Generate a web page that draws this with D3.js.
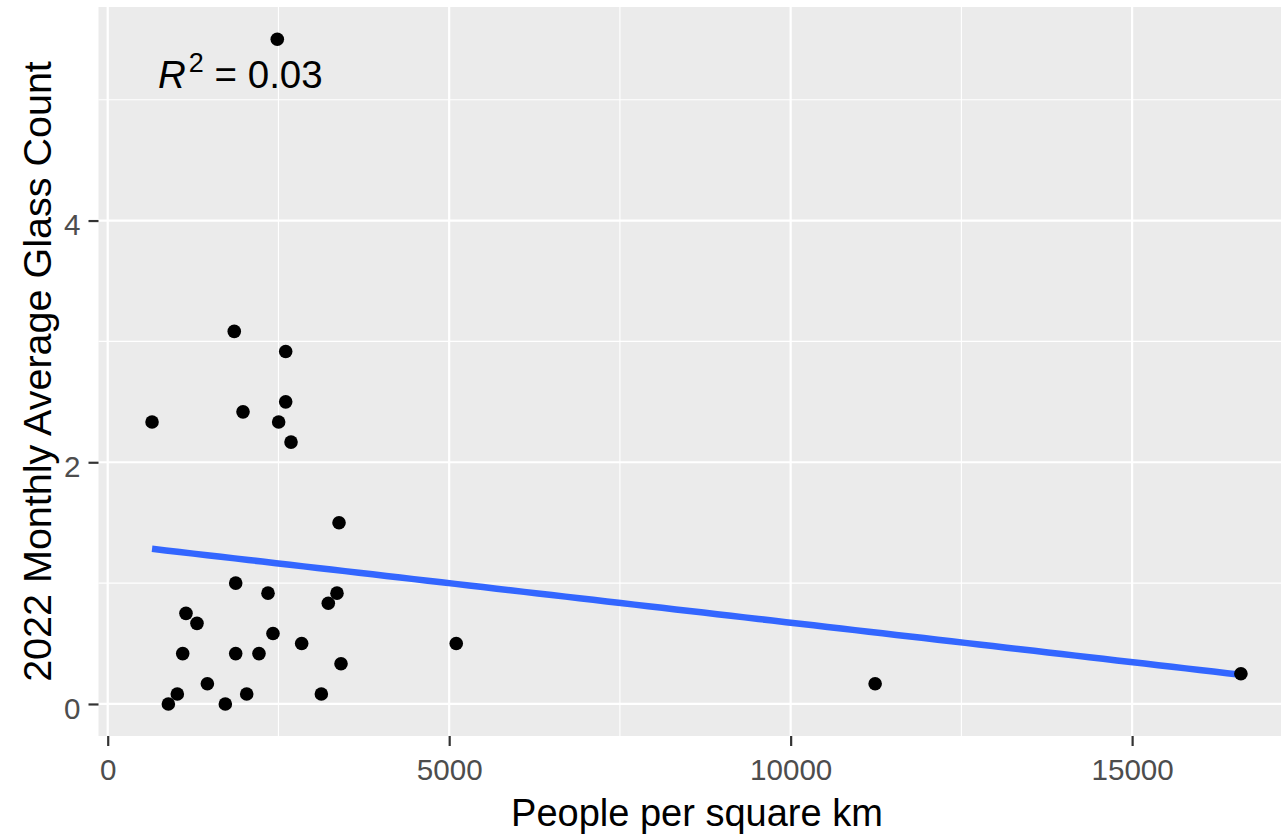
<!DOCTYPE html>
<html>
<head>
<meta charset="utf-8">
<script src="https://cdn.jsdelivr.net/npm/d3@7"></script>
<style>
  body { margin: 0; background: #fff; }
  svg { display: block; font-family: "Liberation Sans", Arial, sans-serif; }
</style>
</head>
<body>
<svg id="chart"></svg>
<script>
// people per square km
const density = [2483, 1853, 2606, 2606, 1981, 649, 2503, 2684, 3387, 1874,
                 2347, 3357, 3230, 1146, 1307, 2420, 2840, 1098, 1874, 2215,
                 3416, 1459, 1019, 2035, 3128, 888, 1722, 5103, 11237, 16593];
// 2022 monthly average glass count
const glass = [5.5, 3.083, 2.917, 2.5, 2.417, 2.333, 2.333, 2.167, 1.5, 1.0,
               0.917, 0.917, 0.833, 0.75, 0.667, 0.583, 0.5, 0.417, 0.417, 0.417,
               0.333, 0.167, 0.083, 0.083, 0.083, 0, 0, 0.5, 0.167, 0.25];
const xTicks = [0, 5000, 10000, 15000];
const xMinor = [2500, 7500, 12500, 17500];
const yTicks = [0, 2, 4];
const yMinor = [1, 3, 5];
const r2Label = "0.03";

function main() {
    const width = 1281;
    const height = 838;
    const panel = { left: 98.5, right: 1281, top: 7, bottom: 736 };

    const svg = d3.select("#chart").attr("width", width).attr("height", height);

    const x = d3.scaleLinear().domain([-135, 17180]).range([panel.left, panel.right]);
    const y = d3.scaleLinear().domain([-0.265, 5.767]).range([panel.bottom, panel.top]);

    svg.append("rect")
        .attr("x", panel.left).attr("y", panel.top)
        .attr("width", panel.right - panel.left).attr("height", panel.bottom - panel.top)
        .attr("fill", "#EBEBEB");

    const grid = svg.append("g");
    grid.selectAll(".xminor").data(xMinor).join("line")
        .attr("x1", d => x(d)).attr("x2", d => x(d))
        .attr("y1", panel.top).attr("y2", panel.bottom)
        .attr("stroke", "#fff").attr("stroke-width", 1.1);
    grid.selectAll(".yminor").data(yMinor).join("line")
        .attr("x1", panel.left).attr("x2", panel.right)
        .attr("y1", d => y(d)).attr("y2", d => y(d))
        .attr("stroke", "#fff").attr("stroke-width", 1.1);
    grid.selectAll(".xmajor").data(xTicks).join("line")
        .attr("x1", d => x(d)).attr("x2", d => x(d))
        .attr("y1", panel.top).attr("y2", panel.bottom)
        .attr("stroke", "#fff").attr("stroke-width", 2.2);
    grid.selectAll(".ymajor").data(yTicks).join("line")
        .attr("x1", panel.left).attr("x2", panel.right)
        .attr("y1", d => y(d)).attr("y2", d => y(d))
        .attr("stroke", "#fff").attr("stroke-width", 2.2);

    // linear fit (geom_smooth, method = "lm")
    const mx = d3.mean(density), my = d3.mean(glass);
    const sxy = d3.sum(density, (d, i) => (d - mx) * (glass[i] - my));
    const sxx = d3.sum(density, d => (d - mx) * (d - mx));
    const slope = sxy / sxx;
    const intercept = my - slope * mx;
    const ext = d3.extent(density);
    const fit = d3.range(80).map(i => ext[0] + (ext[1] - ext[0]) * i / 79)
        .map(d => [d, intercept + slope * d]);

    svg.append("path")
        .datum(fit)
        .attr("d", d3.line().x(d => x(d[0])).y(d => y(d[1])))
        .attr("fill", "none")
        .attr("stroke", "#3366FF")
        .attr("stroke-width", 6.5);

    svg.append("g").selectAll("circle")
        .data(density)
        .join("circle")
        .attr("cx", d => x(d))
        .attr("cy", (d, i) => y(glass[i]))
        .attr("r", 6.8)
        .attr("fill", "#000");

    // axes
    const xAxis = svg.append("g")
        .attr("transform", "translate(0," + panel.bottom + ")")
        .call(d3.axisBottom(x).tickValues(xTicks).tickFormat(d3.format("d"))
            .tickSize(10).tickPadding(13).tickSizeOuter(0));
    const yAxis = svg.append("g")
        .attr("transform", "translate(" + panel.left + ",0)")
        .call(d3.axisLeft(y).tickValues(yTicks).tickFormat(d3.format("d"))
            .tickSize(10).tickPadding(8).tickSizeOuter(0));

    [xAxis, yAxis].forEach(a => {
        a.select(".domain").remove();
        a.selectAll(".tick line").attr("stroke", "#333333").attr("stroke-width", 2.2);
        a.selectAll(".tick text")
            .attr("fill", "#4D4D4D")
            .attr("font-size", 29.6)
            .attr("font-family", "Liberation Sans, Arial, sans-serif");
    });
    yAxis.selectAll(".tick text").attr("dy", "0.48em");

    svg.append("text")
        .attr("x", 697)
        .attr("y", 826)
        .attr("text-anchor", "middle")
        .attr("font-size", 38)
        .attr("fill", "#000")
        .text("People per square km");

    svg.append("text")
        .attr("transform", "translate(51," + (panel.top + panel.bottom) / 2 + ") rotate(-90)")
        .attr("text-anchor", "middle")
        .attr("font-size", 39.5)
        .attr("fill", "#000")
        .text("2022 Monthly Average Glass Count");

    const r2 = svg.append("text")
        .attr("x", 158)
        .attr("y", 88)
        .attr("font-size", 38.5)
        .attr("fill", "#000");
    r2.append("tspan").attr("font-style", "italic").text("R");
    r2.append("tspan").attr("font-size", 27).attr("dy", -16).attr("dx", 3).text("2");
    r2.append("tspan").attr("dy", 16).text(" = " + r2Label);
}

main();
</script>
</body>
</html>
